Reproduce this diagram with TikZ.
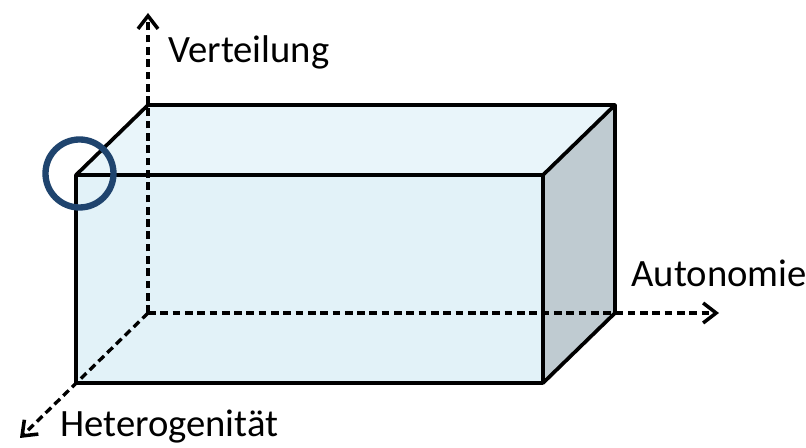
\documentclass[tikz,border=0pt]{standalone}
\usepackage{fontspec}
\setmainfont{Carlito}
\usetikzlibrary{arrows.meta, calc}
\definecolor{faceFront}{RGB}{226,242,248}
\definecolor{faceTop}{RGB}{233,245,250}
\definecolor{faceSide}{RGB}{191,203,209}
\definecolor{ringBlue}{RGB}{31,68,110}
\newcommand{\axisArrow}{{Straight Barb[length=2.6mm, width=4mm, line width=2pt]}}
\tikzset{
	edge/.style={line width=2.1pt, line join=round},
	axis/.style={line width=1.9pt, dash pattern=on 4.4pt off 2.6pt, -\axisArrow},
	axislabel/.style={anchor=west, inner sep=0pt, font=\fontsize{22}{26}\selectfont},
}

\begin{document}
\begin{tikzpicture}
	\useasboundingbox (0,0) rectangle (16.12,8.96);
	% front face corners
	\coordinate (FBL) at (1.52,1.30);
	\coordinate (FBR) at (10.86,1.30);
	\coordinate (FTR) at (10.86,5.46);
	\coordinate (FTL) at (1.52,5.46);
	% depth offset of the back face
	\def\dx{1.44}
	\def\dy{1.40}
	\coordinate (BTL) at ($(FTL)+(\dx,\dy)$);
	\coordinate (BTR) at ($(FTR)+(\dx,\dy)$);
	\coordinate (BBR) at ($(FBR)+(\dx,\dy)$);
	\coordinate (O) at ($(FBL)+(\dx,\dy)$);

	% faces
	\fill[faceFront] (FBL) rectangle (FTR);
	\fill[faceTop] (FTL) -- (BTL) -- (BTR) -- (FTR) -- cycle;
	\fill[faceSide] (FBR) -- (BBR) -- (BTR) -- (FTR) -- cycle;

	% axes through the box
	\coordinate (Vend) at ($(O)+(0,6.0)$);
	\coordinate (Aend) at (14.38,2.70);
	\coordinate (Hend) at (0.40,0.20);
	\draw[axis] (O) -- (Vend);
	\draw[axis] (O) -- (Aend);
	\draw[axis] (O) -- (Hend);

	% visible edges
	\draw[edge] (FBL) rectangle (FTR);
	\draw[edge] (FTL) -- (BTL) -- (BTR) -- (FTR);
	\draw[edge] (BTR) -- (BBR) -- (FBR);

	\node[axislabel] (verteilung) at (3.36,7.92) {Verteilung};
	\node[axislabel] (autonomie) at (12.62,3.5) {Autonomie};
	\node[axislabel] (hetero) at (1.2,0.42) {Heterogenität};

	% marked corner
	\draw[ringBlue, line width=3.6pt] ($(FTL)+(0.07,0.03)$) circle (0.68);
\end{tikzpicture}
\end{document}
